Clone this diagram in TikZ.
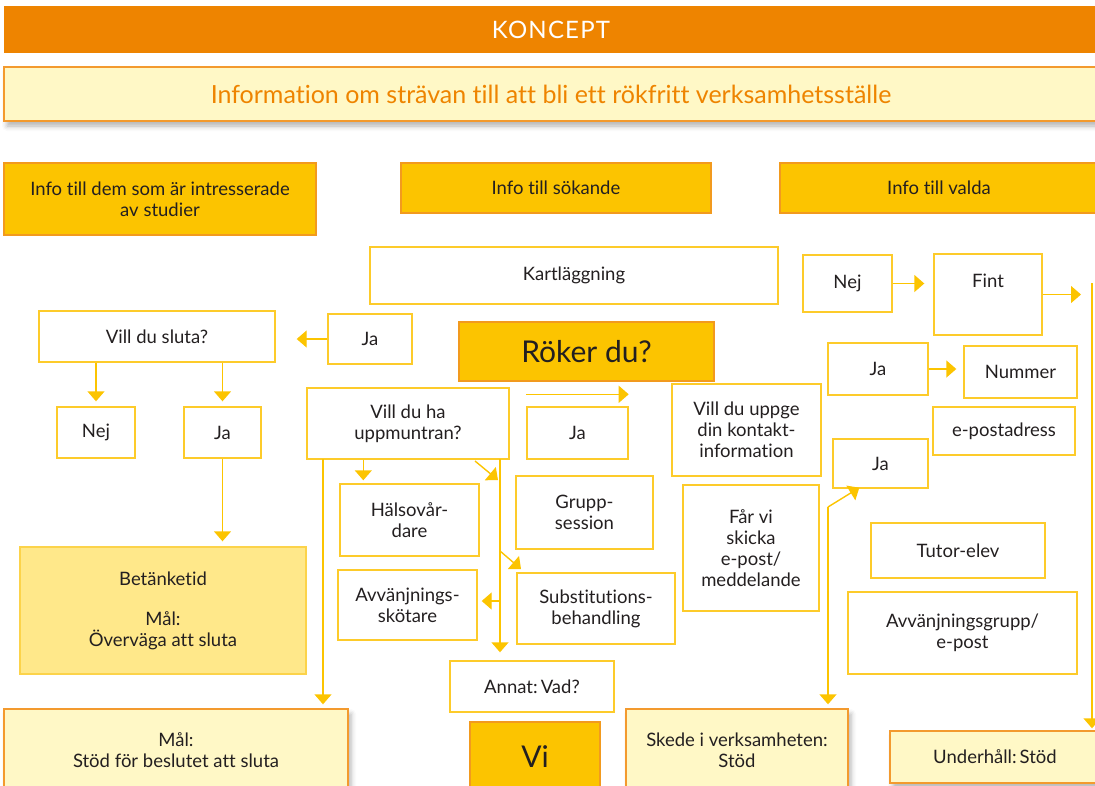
\documentclass[tikz,border=0pt]{standalone}
\usepackage{fontspec}
\setmainfont[Ligatures=NoCommon]{Lato}
\usetikzlibrary{positioning,arrows.meta,shadows.blur}

\definecolor{orangebar}{HTML}{EE8400}
\definecolor{gold}{HTML}{FCC400}
\definecolor{goldline}{HTML}{F29A1E}
\definecolor{cream}{HTML}{FFF8C6}
\definecolor{creamline}{HTML}{F39A2E}
\definecolor{pale}{HTML}{FFE88A}
\definecolor{paleline}{HTML}{FCD34A}
\definecolor{boxline}{HTML}{FDCB2A}
\definecolor{ink}{HTML}{231F20}

\tikzset{
  box/.style={draw=boxline, fill=white, line width=1.4pt, align=center,
    inner sep=2pt, text=ink, font=\fontsize{18.5}{21}\selectfont},
  goldbox/.style={box, fill=gold, draw=goldline},
  creambox/.style={box, fill=cream, draw=creamline,
    blur shadow={shadow xshift=3pt, shadow yshift=-5pt, shadow blur radius=5pt, shadow opacity=30}},
  palebox/.style={box, fill=pale, draw=paleline},
  arr/.style={draw=gold, line width=1.4pt, -{Triangle[width=17pt,length=10pt]}},
  line/.style={draw=gold, line width=1.4pt},
}

\begin{document}
\begin{tikzpicture}[x=1pt, y=-1pt]
  \useasboundingbox (0,0) rectangle (1095,785);

  % headings
  \node[fill=orangebar, minimum width=1094pt, minimum height=47pt, text=white,
    font=\fontsize{24}{28}\selectfont\addfontfeature{LetterSpace=5}] (koncept) at (551,29.5) {KONCEPT};
  \node[creambox, minimum width=1094pt, minimum height=54pt, text=orangebar,
    font=\fontsize{25}{28}\selectfont] (strava) at (551,94)
    {Information om strävan till att bli ett rökfritt verksamhetsställe};
  \node[goldbox, minimum width=312pt, minimum height=72pt] (intress) at (160,199)
    {Info till dem som är intresserade\\av studier};
  \node[goldbox, minimum width=310pt, minimum height=50pt] (sokande) at (556,188) {Info till sökande};
  \node[goldbox, minimum width=318pt, minimum height=50pt] (valda) at (939,188) {Info till valda};

  % middle column
  \node[box, minimum width=408pt, minimum height=57pt] (kartl) at (574,275.5) {Kartläggning};
  \node[goldbox, minimum width=255pt, minimum height=59pt,
    font=\fontsize{30}{34}\selectfont] (roker) at (586.5,351.5) {Röker du?};
  \node[box, minimum width=84pt, minimum height=50pt] (jaL) at (370,339) {Ja};
  \node[box, minimum width=236pt, minimum height=51pt] (sluta) at (157,336.5) {Vill du sluta?};
  \node[box, minimum width=78pt, minimum height=51pt] (nejL) at (96,432.5) {Nej};
  \node[box, minimum width=77pt, minimum height=51pt] (jaS) at (222.5,432.5) {Ja};
  \node[palebox, minimum width=286pt, minimum height=127pt] (betank) at (163,610.5)
    {Betänketid\\[19pt]Mål:\\Överväga att sluta};
  \node[box, minimum width=202pt, minimum height=71pt] (uppm) at (408,423.5) {Vill du ha\\uppmuntran?};
  \node[box, minimum width=101pt, minimum height=52pt] (jaM) at (577.5,433) {Ja};
  \node[box, minimum width=139pt, minimum height=72pt] (halso) at (409.5,520) {Hälsovår-\\dare};
  \node[box, minimum width=137pt, minimum height=73pt] (grupp) at (584.5,512.5) {Grupp-\\session};
  \node[box, minimum width=139pt, minimum height=70pt] (avvsk) at (407.5,605) {Avvänjnings-\\skötare};
  \node[box, minimum width=158pt, minimum height=71pt] (subst) at (596,608.5) {Substitutions-\\behandling};
  \node[box, minimum width=164pt, minimum height=51pt] (annat) at (532,686.5) {Annat:\,Vad?};
  \node[box, minimum width=149pt, minimum height=92pt] (uppge) at (746.5,430)
    {Vill du uppge\\din kontakt-\\information};
  \node[box, minimum width=136pt, minimum height=126pt] (farvi) at (751,548)
    {Får vi\\skicka\\e-post/\\meddelande};

  % right column
  \node[box, minimum width=89pt, minimum height=57pt] (nejR) at (847.5,283.5) {Nej};
  \node[box, minimum width=108pt, minimum height=81pt] (fint) at (988,294.5) {Fint\\[6pt]\mbox{}};
  \node[box, minimum width=100pt, minimum height=52pt] (jaR) at (878,369) {Ja};
  \node[box, minimum width=113pt, minimum height=52pt] (nummer) at (1020.5,372) {Nummer};
  \node[box, minimum width=142pt, minimum height=48pt] (epost) at (1004,431) {e-postadress};
  \node[box, minimum width=95pt, minimum height=49pt] (jaE) at (880.5,463.5) {Ja};
  \node[box, minimum width=174pt, minimum height=55pt] (tutor) at (958,550.5) {Tutor-elev};
  \node[box, minimum width=229pt, minimum height=82pt] (avvgrp) at (962.5,633) {Avvänjningsgrupp/\\e-post};

  % bottom row
  \node[creambox, minimum width=344pt, minimum height=82pt] (malstod) at (176,750)
    {Mål:\\Stöd för beslutet att sluta};
  \node[goldbox, minimum width=130pt, minimum height=70pt,
    font=\fontsize{30}{34}\selectfont] (vi) at (535,757) {Vi};
  \node[creambox, minimum width=222pt, minimum height=82pt] (skede) at (737,750)
    {Skede i verksamheten:\\Stöd};
  \node[creambox, minimum width=210pt, minimum height=52pt] (underh) at (995,757) {Underhåll:\,Stöd};

  % rails and branch points
  \coordinate (railL) at (323,459);
  \coordinate (railM) at (500,459);
  \coordinate (branchS) at (500,551);
  \coordinate (branchA) at (500,601);
  \coordinate (diagU) at (475,461);
  \coordinate (railF) at (828,507);
  \coordinate (railR) at (1092,283);

  % connectors
  \draw[arr, shorten >=21pt] (jaL.west) -- (jaL.west -| sluta.east);
  \draw[arr, shorten >=5pt] (sluta.south -| nejL) -- (nejL.north);
  \draw[arr, shorten >=5pt] (sluta.south -| jaS) -- (jaS.north);
  \draw[arr, shorten >=5pt] (jaS.south) -- (betank.north -| jaS);
  \draw[arr, shorten >=4pt] (railL) -- (railL |- malstod.north);
  \draw[arr, shorten >=3pt] ([xshift=57pt]uppm.south west) -- ([xshift=57pt]uppm.south west |- halso.north);
  \draw[arr] (diagU) -- ++(23,19);
  \draw[arr, shorten >=8pt] (railM) -- (railM |- annat.north);
  \draw[arr] (branchS) -- ++(21,18);
  \draw[arr, shorten >=4pt] (branchA) -- (branchA -| avvsk.east);
  \draw[arr] ([yshift=12pt]jaM.north west) -- ([yshift=12pt]jaM.north east);
  \draw[arr, shorten >=9pt] (nejR.east) -- (nejR.east -| fint.west);
  \draw[arr, shorten >=3pt] (fint.east) -- (fint.east -| 1084,0);
  \draw[arr, shorten >=2pt] (railR) -- (railR |- underh.north);
  \draw[arr, shorten >=7pt] (jaR.east) -- (jaR.east -| nummer.west);
  \draw[arr] (railF) -- ([xshift=27pt,yshift=1pt]jaE.south west);
  \draw[arr, shorten >=4pt] (railF) -- (railF |- skede.north);
\end{tikzpicture}
\end{document}
